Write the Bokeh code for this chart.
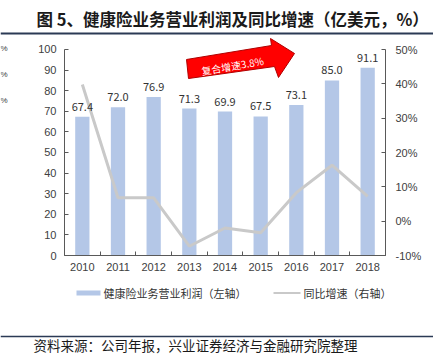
from bokeh.plotting import figure
from bokeh.layouts import column, row
from bokeh.models import Range1d, LinearAxis, FixedTicker, PrintfTickFormatter
from bokeh.core.properties import value
from bokeh.embed import file_html
from bokeh.resources import INLINE

years = ["2010", "2011", "2012", "2013", "2014", "2015", "2016", "2017", "2018"]
profit = [67.4, 72.0, 76.9, 71.3, 69.9, 67.5, 73.1, 85.0, 91.1]
growth = [39.8, 6.8, 6.8, -7.3, -2.0, -3.4, 8.3, 16.3, 7.2]
left_ticks = list(range(0, 101, 10))
right_ticks = list(range(-10, 51, 10))
title_text = "图 5、健康险业务营业利润及同比增速（亿美元，%）"
source_text = "资料来源：公司年报，兴业证券经济与金融研究院整理"
bar_name = "健康险业务营业利润（左轴）"
line_name = "同比增速（右轴）"
cagr_text = "复合增速3.8%"

BAR = "#B4C7E7"
LINE = "#C9C9C9"
AX = "#595959"
TXT = "#404040"
RULE = "#2B3A55"
FONT = "Liberation Sans"
CJK = "Noto Sans CJK SC"


def blank(w, h):
    f = figure(width=w, height=h, x_range=Range1d(0, w), y_range=Range1d(h, 0),
               x_axis_type=None, y_axis_type=None, output_backend="svg",
               toolbar_location=None, min_border=0, outline_line_color=None,
               background_fill_color="white", border_fill_color="white")
    f.grid.visible = False
    return f


# ---------- header ----------
head = blank(433, 36)
head.text(x=[36], y=[18], text=[title_text], text_baseline="middle",
          text_font=value(CJK), text_font_size="16.5px", text_font_style="bold",
          text_color="#1a1a1a")
head.segment(x0=[0], y0=[33], x1=[433], y1=[33], line_color=RULE, line_width=2)

# ---------- left strip with "%" marks (remnants of a neighbouring chart) ----------
strip = blank(10, 243)
strip.text(x=[0, 0, 0], y=[13, 42, 71], text=["%", "%", "%"], text_baseline="middle",
           text_font=value(FONT), text_font_size="8px", text_color=TXT)

# ---------- main plot ----------
xs = list(range(len(years)))
p = figure(frame_width=321, frame_height=219,
           min_border_left=54, min_border_right=48, min_border_top=0, min_border_bottom=24,
           x_range=Range1d(-0.5, 8.5), y_range=Range1d(0, 106.31),
           output_backend="svg", toolbar_location=None,
           background_fill_color="white", border_fill_color="white", outline_line_color=None)
p.grid.visible = False

xa = p.xaxis[0]
xa.ticker = FixedTicker(ticks=xs, minor_ticks=[i - 0.5 for i in range(len(years) + 1)])
xa.major_label_overrides = {i: y for i, y in enumerate(years)}
xa.major_tick_line_color = None
xa.major_tick_in = 0
xa.major_tick_out = 0
xa.minor_tick_in = 4
xa.minor_tick_out = 0
xa.minor_tick_line_color = AX
xa.axis_line_color = AX
xa.major_label_standoff = 7
xa.major_label_text_font = FONT
xa.major_label_text_font_size = "11px"
xa.major_label_text_color = TXT

ya = p.yaxis[0]
ya.ticker = FixedTicker(ticks=left_ticks)
ya.bounds = (0, 100)
ya.major_tick_in = 4
ya.major_tick_out = 0
ya.minor_tick_line_color = None
ya.major_tick_line_color = AX
ya.axis_line_color = AX
ya.major_label_standoff = 8
ya.major_label_text_font = FONT
ya.major_label_text_font_size = "11px"
ya.major_label_text_color = TXT

p.extra_y_ranges = {"r": Range1d(-10, 53.79)}
ra = LinearAxis(y_range_name="r", ticker=FixedTicker(ticks=right_ticks),
                formatter=PrintfTickFormatter(format="%d%%"), bounds=(-10, 50))
ra.major_tick_in = 4
ra.major_tick_out = 0
ra.minor_tick_line_color = None
ra.major_tick_line_color = AX
ra.axis_line_color = AX
ra.major_label_standoff = 10
ra.major_label_text_font = FONT
ra.major_label_text_font_size = "11px"
ra.major_label_text_color = TXT
p.add_layout(ra, "right")

p.vbar(x=xs, top=profit, width=0.4, fill_color=BAR, line_color=None)
p.line(xs, growth, y_range_name="r", line_color=LINE, line_width=3)
p.text(x=xs, y=profit, text=[f"{v:.1f}" for v in profit], text_align="center",
       text_baseline="bottom", y_offset=-6, text_font=value(CJK),
       text_font_size="11px", text_color="#333333")

# red CAGR arrow (decoration)
arrow_x = [2.921, 5.304, 5.276, 5.949, 5.5, 5.388, 2.977]
arrow_y = [95.15, 101.94, 105.34, 98.06, 86.41, 91.75, 85.92]
p.patch(arrow_x, arrow_y, fill_color="#FF0000", line_color="#B00000", line_width=1)
p.text(x=[4.21], y=[92.2], text=[cagr_text], angle=0.17, text_align="center",
       text_baseline="middle", text_font=value(CJK), text_font_size="10px",
       text_color="white")

# ---------- footer: legend, rule, source ----------
foot = blank(433, 75)
foot.quad(left=[76], right=[100], top=[11], bottom=[16], fill_color=BAR, line_color=None)
foot.segment(x0=[273], y0=[13.5], x1=[300], y1=[13.5], line_color=LINE, line_width=2)
foot.text(x=[103, 303], y=[13.5, 13.5], text=[bar_name, line_name], text_baseline="middle",
          text_font=value(CJK), text_font_size="11px", text_color="#333333")
foot.segment(x0=[0], y0=[57], x1=[433], y1=[57], line_color=RULE, line_width=1.5)
foot.text(x=[33], y=[65], text=[source_text], text_baseline="middle",
          text_font=value(CJK), text_font_size="13.5px", text_color="#1a1a1a")

layout = column(head, row(strip, p, spacing=0), foot, spacing=0)
open("out.html", "w").write(file_html(layout, INLINE))
